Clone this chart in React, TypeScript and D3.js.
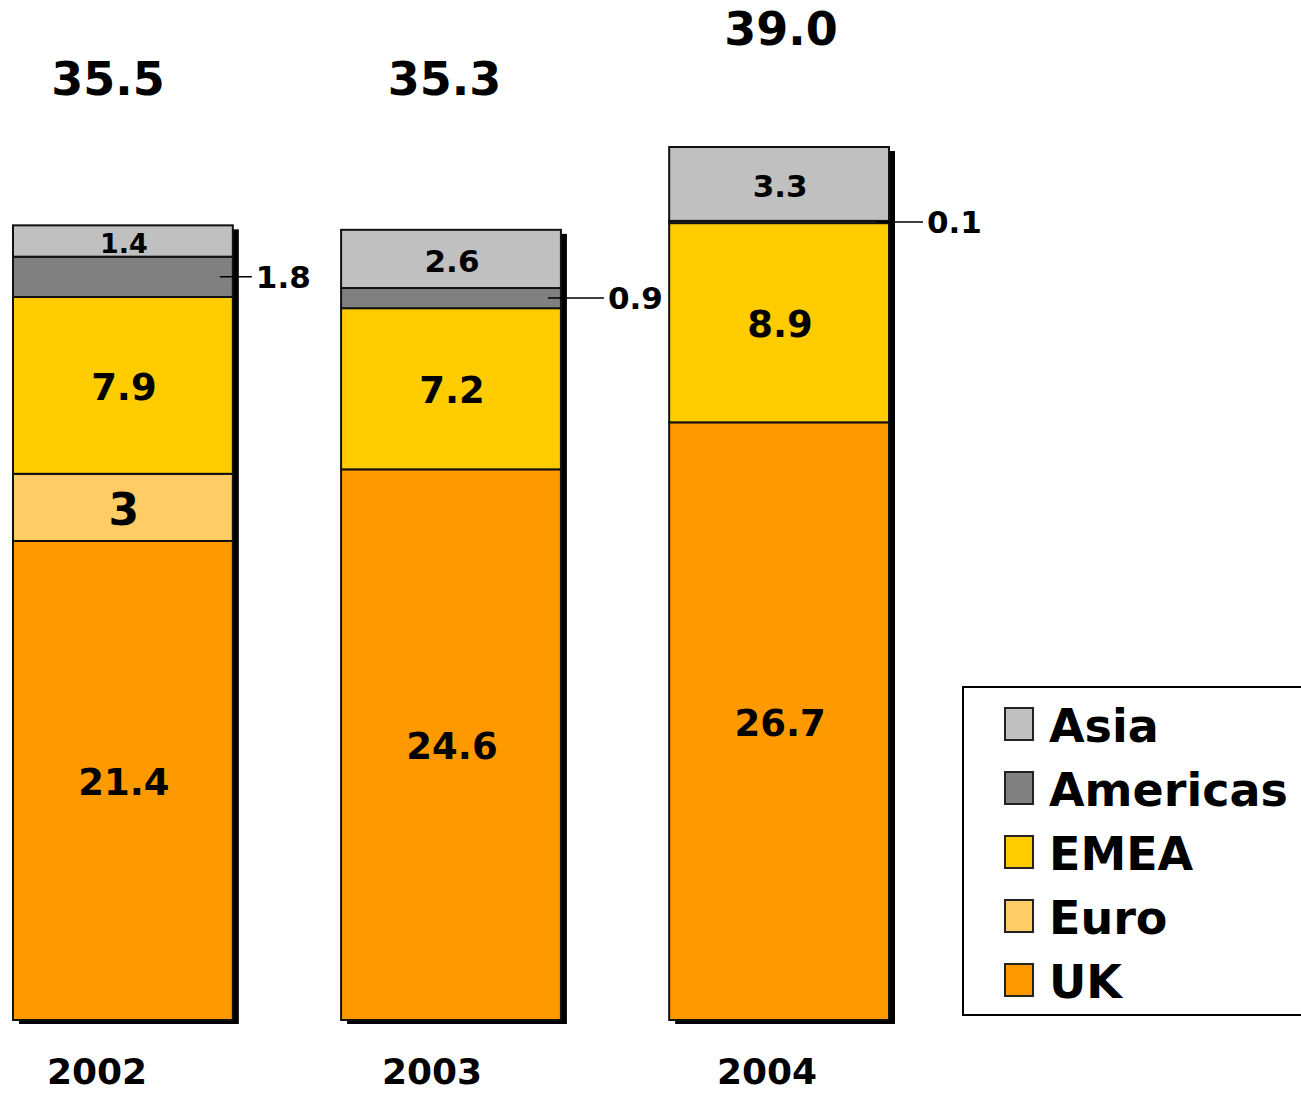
import React from "react";
import * as d3 from "d3";

// Revenue by region, stacked per year
const years = ["2002", "2003", "2004"];
const regions = ["UK", "Euro", "EMEA", "Americas", "Asia"];
const uk = [21.4, 24.6, 26.7];
const euro = [3, 0, 0];
const emea = [7.9, 7.2, 8.9];
const americas = [1.8, 0.9, 0.1];
const asia = [1.4, 2.6, 3.3];
const totals = ["35.5", "35.3", "39.0"];
const legendOrder = ["Asia", "Americas", "EMEA", "Euro", "UK"];

const colors: Record<string, string> = {
  UK: "#FF9900",
  Euro: "#FFCC66",
  EMEA: "#FFCC00",
  Americas: "#808080",
  Asia: "#C0C0C0",
};

// segments labelled by a leader line to the right of the bar
const calloutRegion = "Americas";
const leaderReach = [19, 43, 34];

const FONT = "'DejaVu Sans', Verdana, sans-serif";

export default function App() {
  const W = 1301;
  const H = 1093;

  const rows = years.map((year, i) => ({
    year,
    UK: uk[i],
    Euro: euro[i],
    EMEA: emea[i],
    Americas: americas[i],
    Asia: asia[i],
  }));

  const stack = d3.stack<any>().keys(regions);
  const series = stack(rows);

  const x = d3.scaleBand<string>().domain(years).range([13, 889]).paddingInner(0.33).paddingOuter(0);
  const y = d3.scaleLinear().domain([0, 39]).range([1020, 147]);

  // category and total labels sit on their own evenly spaced grid
  const xYear = d3.scalePoint<string>().domain(years).range([97, 767]);
  const xTotal = d3.scalePoint<string>().domain(years).range([108, 781]);

  const labelSize = (v: number, region: string) => {
    if (region === "Euro") return 44;
    if (v < 2) return 27;
    if (v < 4) return 31;
    return 37;
  };

  const totalValue = (i: number) => regions.reduce((s, r) => s + (rows[i] as any)[r], 0);

  return (
    <svg width={W} height={H} style={{ position: "absolute", left: 0, top: 0, background: "#fff" }}>
      {/* bar shadows */}
      {years.map((yr, i) => {
        const t = totalValue(i);
        return (
          <rect
            key={"sh" + yr}
            x={(x(yr) as number) + 6}
            y={y(t) + 4}
            width={x.bandwidth()}
            height={y(0) - y(t)}
            fill="#000"
          />
        );
      })}

      {/* stacked segments */}
      {series.map((s) => (
        <g key={s.key}>
          {s.map((d, i) => {
            const h = y(d[0]) - y(d[1]);
            if (h <= 0) return null;
            return (
              <rect
                key={i}
                x={x(years[i]) as number}
                y={y(d[1])}
                width={x.bandwidth()}
                height={h}
                fill={colors[s.key]}
                stroke="#111"
                strokeWidth={2}
              />
            );
          })}
        </g>
      ))}

      {/* segment value labels */}
      {series.map((s) => (
        <g key={"lbl" + s.key}>
          {s.map((d, i) => {
            const v = d[1] - d[0];
            if (v <= 0) return null;
            const cx = (x(years[i]) as number) + x.bandwidth() / 2 + 1;
            const cy = (y(d[0]) + y(d[1])) / 2;
            if (s.key === calloutRegion) {
              const x0 = (x(years[i]) as number) + x.bandwidth();
              const reach = leaderReach[i];
              return (
                <g key={i}>
                  <line x1={x0 - 13} x2={x0 + reach} y1={cy} y2={cy} stroke="#000" strokeWidth={1.5} />
                  <text
                    x={x0 + reach + 4}
                    y={cy}
                    fontFamily={FONT}
                    fontWeight="bold"
                    fontSize={31}
                    dominantBaseline="central"
                    fill="#000"
                  >
                    {v.toFixed(1)}
                  </text>
                </g>
              );
            }
            const txt = s.key === "Euro" ? String(euro[i]) : v.toFixed(1);
            return (
              <text
                key={i}
                x={cx}
                y={cy + 2}
                textAnchor="middle"
                dominantBaseline="central"
                fontFamily={FONT}
                fontWeight="bold"
                fontSize={labelSize(v, s.key)}
                fill="#000"
              >
                {txt}
              </text>
            );
          })}
        </g>
      ))}

      {/* totals above bars */}
      {years.map((yr, i) => (
        <text
          key={"tot" + yr}
          x={xTotal(yr)}
          y={Math.min(y(totalValue(i)) - 102, 95)}
          textAnchor="middle"
          fontFamily={FONT}
          fontWeight="bold"
          fontSize={46}
          fill="#000"
        >
          {totals[i]}
        </text>
      ))}

      {/* year labels */}
      {years.map((yr) => (
        <text
          key={"yr" + yr}
          x={xYear(yr)}
          y={1084}
          textAnchor="middle"
          fontFamily={FONT}
          fontWeight="bold"
          fontSize={36}
          fill="#000"
        >
          {yr}
        </text>
      ))}

      {/* legend */}
      <rect x={963} y={687} width={360} height={328} fill="#fff" stroke="#000" strokeWidth={2} />
      {legendOrder.map((r, i) => (
        <g key={"lg" + r} transform={`translate(1005, ${708 + i * 64})`}>
          <rect x={0} y={0} width={28} height={32} fill={colors[r]} stroke="#222" strokeWidth={2} />
          <text x={44} y={34} fontFamily={FONT} fontWeight="bold" fontSize={46} fill="#000">
            {r}
          </text>
        </g>
      ))}
    </svg>
  );
}
